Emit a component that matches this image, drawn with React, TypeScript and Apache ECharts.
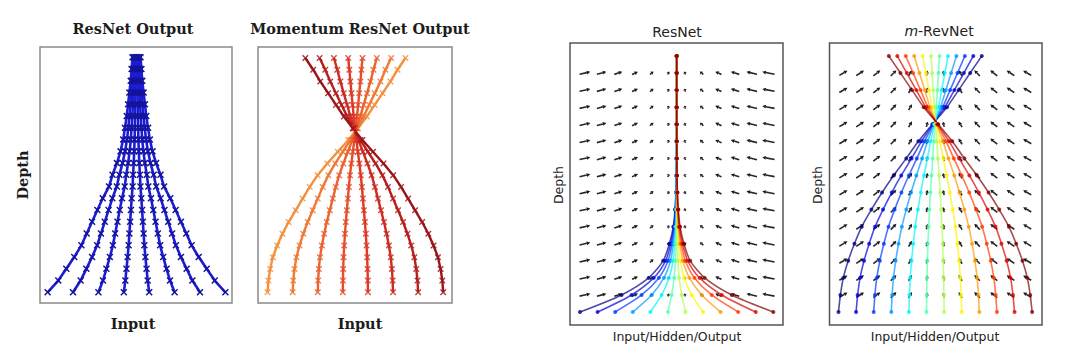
import React, { useEffect, useRef } from 'react';
import * as echarts from 'echarts';

// ---- Panel 1: ResNet Output (8 trajectories, 21 depth levels) ----
const resnetInputs = [-3.5, -2.5, -1.5, -0.5, 0.5, 1.5, 2.5, 3.5];
const resnetLevels = [0, 1, 2, 3, 4, 5, 6, 7, 8, 9, 10, 11, 12, 13, 14, 15, 16, 17, 18, 19, 20];
const resnetSpread = [1, 0.88, 0.79, 0.7, 0.62, 0.56, 0.5, 0.44, 0.38, 0.31, 0.27, 0.22, 0.18, 0.15, 0.13, 0.11, 0.095, 0.08, 0.065, 0.055, 0.045];

// ---- Panel 2: Momentum ResNet Output ----
const momentumInputs = [-3.5, -2.5, -1.5, -0.5, 0.5, 1.5, 2.5, 3.5];
const momentumLevels = [0, 1, 2, 3, 4, 5, 6, 7, 8, 9, 10, 11, 12, 13, 14, 15, 16, 17, 18, 19, 20];
const momentumSpread = [1, 0.99, 0.97, 0.94, 0.89, 0.83, 0.76, 0.68, 0.6, 0.52, 0.43, 0.32, 0.2, 0.08, -0.03, -0.13, -0.22, -0.31, -0.4, -0.48, -0.57];

// ---- Panels 3 & 4: trajectories in vector fields ----
const fieldInputs = [-5.5, -4.5, -3.5, -2.5, -1.5, -0.5, 0.5, 1.5, 2.5, 3.5, 4.5, 5.5];
const fieldLevels = [0, 1, 2, 3, 4, 5, 6, 7, 8, 9, 10, 11, 12, 13, 14, 15];
const resnetFieldSpread = [1, 0.57, 0.29, 0.14, 0.075, 0.035, 0.017, 0.008, 0.004, 0.002, 0.001, 0, 0, 0, 0, 0];
const revnetSpread = [1, 0.98, 0.95, 0.9, 0.835, 0.76, 0.66, 0.55, 0.43, 0.3, 0.175, 0.03, -0.12, -0.24, -0.36, -0.48];

// quiver grid
const quiverCols = [-5.22, -4.27, -3.32, -2.37, -1.42, -0.47, 0.47, 1.42, 2.37, 3.32, 4.27, 5.22];
const quiverRows = [1, 2, 3, 4, 5, 6, 7, 8, 9, 10, 11, 12, 13, 14];
const resnetFieldU = [0.61, 0.54, 0.455, 0.34, 0.2, 0.07, -0.07, -0.2, -0.36, -0.48, -0.6, -0.7];
const resnetFieldV = [0.14, 0.15, 0.155, 0.165, 0.17, 0.17, 0.17, 0.17, 0.165, 0.155, 0.15, 0.14];
const revnetFieldU = [0.46, 0.44, 0.4, 0.32, 0.2, 0.07, -0.07, -0.2, -0.32, -0.4, -0.44, -0.46];
const revnetFieldV = [0.28, 0.3, 0.32, 0.34, 0.34, 0.3, 0.3, 0.34, 0.34, 0.32, 0.3, 0.28];

const momentumColors = ['#f4913e', '#ef7a35', '#ea6430', '#e44e2b', '#dc3a26', '#cc2b22', '#b51f1d', '#9a1418'];
const jetColors = ['#000080', '#0000dc', '#003aff', '#0097ff', '#00f4ff', '#51ffae', '#aeff51', '#fff400', '#ff9700', '#ff3a00', '#dc0000', '#800000'];

const X_MARK = 'path://M0,1.5L1.5,0L5,3.5L8.5,0L10,1.5L6.5,5L10,8.5L8.5,10L5,6.5L1.5,10L0,8.5L3.5,5Z';

function trajectories(inputs: number[], levels: number[], spread: number[]) {
  return inputs.map((inp) => levels.map((lv, k) => [inp * spread[k], lv]));
}

function quiverData(u: number[], v: number[]) {
  const out: number[][] = [];
  quiverRows.forEach((r) => {
    quiverCols.forEach((c, i) => {
      out.push([c, r, u[i], v[i]]);
    });
  });
  return out;
}

function arrowRender(params: any, api: any) {
  const x = api.value(0), y = api.value(1), u = api.value(2), v = api.value(3);
  const p0 = api.coord([x - u / 2, y - v / 2]);
  const p1 = api.coord([x + u / 2, y + v / 2]);
  const dx = p1[0] - p0[0], dy = p1[1] - p0[1];
  const L = Math.hypot(dx, dy) || 1;
  const ux = dx / L, uy = dy / L;
  const hl = Math.min(3.6, L * 0.55);
  const hw = 1.9;
  const bx = p1[0] - ux * hl, by = p1[1] - uy * hl;
  return {
    type: 'group',
    children: [
      { type: 'line', shape: { x1: p0[0], y1: p0[1], x2: bx, y2: by }, style: { stroke: '#262626', lineWidth: 1.6 } },
      { type: 'polygon', shape: { points: [[p1[0], p1[1]], [bx - uy * hw, by + ux * hw], [bx + uy * hw, by - ux * hw]] }, style: { fill: '#1a1a1a' } },
    ],
  };
}

export default function App() {
  const ref = useRef<HTMLDivElement>(null);
  useEffect(() => {
    if (!ref.current) return;
    const chart = echarts.init(ref.current, null, { renderer: 'svg' });

    const series: any[] = [];

    trajectories(resnetInputs, resnetLevels, resnetSpread).forEach((d) => {
      series.push({
        type: 'line', xAxisIndex: 0, yAxisIndex: 0, data: d, silent: true,
        symbol: X_MARK, symbolSize: 7, showSymbol: true,
        lineStyle: { color: '#1c1cd4', width: 2.6 },
        itemStyle: { color: '#14149a' },
      });
    });

    trajectories(momentumInputs, momentumLevels, momentumSpread).forEach((d, i) => {
      series.push({
        type: 'line', xAxisIndex: 1, yAxisIndex: 1, data: d, silent: true,
        symbol: X_MARK, symbolSize: 6.5, showSymbol: true,
        lineStyle: { color: momentumColors[i], width: 2.4 },
        itemStyle: { color: momentumColors[i], opacity: 0.85 },
      });
    });

    series.push({
      type: 'custom', xAxisIndex: 2, yAxisIndex: 2, z: 1, silent: true,
      data: quiverData(resnetFieldU, resnetFieldV), encode: { x: 0, y: 1 },
      renderItem: arrowRender,
    });
    series.push({
      type: 'custom', xAxisIndex: 3, yAxisIndex: 3, z: 1, silent: true,
      data: quiverData(revnetFieldU, revnetFieldV), encode: { x: 0, y: 1 },
      renderItem: arrowRender,
    });

    trajectories(fieldInputs, fieldLevels, resnetFieldSpread).forEach((d, i) => {
      series.push({
        type: 'line', xAxisIndex: 2, yAxisIndex: 2, data: d, silent: true, z: 3,
        smooth: 0.25, symbol: 'circle', symbolSize: 4, showSymbol: true,
        lineStyle: { color: jetColors[i], width: 1.6, opacity: 0.7 },
        itemStyle: { color: jetColors[i], opacity: 0.8 },
      });
    });

    trajectories(fieldInputs, fieldLevels, revnetSpread).forEach((d, i) => {
      series.push({
        type: 'line', xAxisIndex: 3, yAxisIndex: 3, data: d, silent: true, z: 3,
        smooth: 0.2, symbol: 'circle', symbolSize: 4, showSymbol: true,
        lineStyle: { color: jetColors[i], width: 1.6, opacity: 0.7 },
        itemStyle: { color: jetColors[i], opacity: 0.8 },
      });
    });

    const serifBold = { fontFamily: '"DejaVu Serif", serif', fontWeight: 'bold', fontSize: 14.5, fill: '#1c1c1c' };
    const sans = { fontFamily: '"DejaVu Sans", sans-serif', fill: '#222' };
    const txt = (x: number, y: number, text: string, style: any, rot = 0) => ({
      type: 'text', x, y, rotation: rot, silent: true,
      style: { text, ...style, align: 'center', verticalAlign: 'middle', textAlign: 'center', textVerticalAlign: 'middle' },
    });

    const gridBox = (left: number, top: number, width: number, height: number, color: string) => ({
      left, top, width, height, show: true, borderColor: color, borderWidth: 1.5, backgroundColor: 'transparent', containLabel: false,
    });

    chart.setOption({
      animation: false,
      grid: [
        gridBox(40, 47, 192, 256, '#8a8a8a'),
        gridBox(258, 47, 194, 256, '#8a8a8a'),
        gridBox(570, 43, 213, 282, '#555'),
        gridBox(829.5, 43, 212.5, 282, '#555'),
      ],
      xAxis: [
        { gridIndex: 0, type: 'value', min: -3.8, max: 3.76, show: false },
        { gridIndex: 1, type: 'value', min: -3.88, max: 3.85, show: false },
        { gridIndex: 2, type: 'value', min: -6.07, max: 6.05, show: false },
        { gridIndex: 3, type: 'value', min: -6.01, max: 6.06, show: false },
      ],
      yAxis: [
        { gridIndex: 0, type: 'value', min: -0.91, max: 20.88, show: false },
        { gridIndex: 1, type: 'value', min: -0.91, max: 20.94, show: false },
        { gridIndex: 2, type: 'value', min: -0.76, max: 15.76, show: false },
        { gridIndex: 3, type: 'value', min: -0.76, max: 15.76, show: false },
      ],
      series,
      graphic: [
        txt(133, 28, 'ResNet Output', serifBold),
        txt(360, 28, 'Momentum ResNet Output', serifBold),
        txt(22, 175, 'Depth', serifBold, Math.PI / 2),
        txt(133, 323, 'Input', serifBold),
        txt(360, 323, 'Input', serifBold),
        txt(677, 32, 'ResNet', { ...sans, fontSize: 14 }),
        {
          type: 'text', x: 939, y: 31, silent: true,
          style: {
            text: '{i|m}{n|-RevNet}', align: 'center', verticalAlign: 'middle', textAlign: 'center', textVerticalAlign: 'middle',
            fontFamily: '"DejaVu Sans", sans-serif', fontSize: 14, fill: '#222',
            rich: {
              i: { fontFamily: '"DejaVu Sans", sans-serif', fontSize: 14, fontStyle: 'italic', fill: '#222' },
              n: { fontFamily: '"DejaVu Sans", sans-serif', fontSize: 14, fill: '#222' },
            },
          },
        },
        txt(558, 185, 'Depth', { ...sans, fontSize: 12.5 }, Math.PI / 2),
        txt(817.5, 185, 'Depth', { ...sans, fontSize: 12.5 }, Math.PI / 2),
        txt(677, 336, 'Input/Hidden/Output', { ...sans, fontSize: 12.5 }),
        txt(935, 336, 'Input/Hidden/Output', { ...sans, fontSize: 12.5 }),
      ],
    });

    return () => chart.dispose();
  }, []);

  return <div ref={ref} style={{ position: 'fixed', left: 0, top: 0, width: 1080, height: 356, background: '#fff' }} />;
}
